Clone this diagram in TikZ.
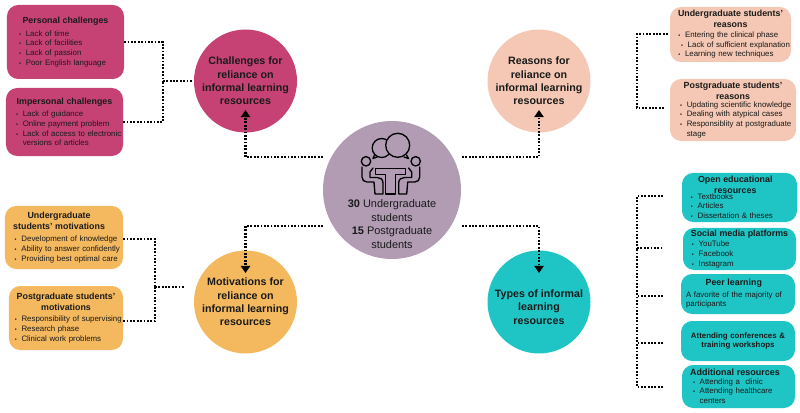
\documentclass[tikz,border=0pt]{standalone}
\usepackage{fontspec}
\setmainfont{Liberation Sans}
\usetikzlibrary{arrows.meta}

\definecolor{pinkfill}{HTML}{C64274}
\definecolor{peachfill}{HTML}{F4C8B4}
\definecolor{amberfill}{HTML}{F4B95F}
\definecolor{tealfill}{HTML}{1FC4C4}
\definecolor{mauvefill}{HTML}{B19CB4}
\definecolor{inktext}{HTML}{1A1A1A}

\newcommand{\boxhead}[1]{{\centering\fontsize{6.3}{7.8}\selectfont\bfseries #1\par}}
\newcommand{\blitem}[2][10.5pt]{\hyphenpenalty=10000\hangindent=#1\hangafter=1\noindent\hbox to #1{\hss{\fontsize{4}{4}\selectfont\textbullet}\hskip 3.4pt}#2\par}

\tikzset{
    infobox/.style={rounded corners=2.8mm, inner xsep=0.5mm, inner ysep=0pt, text=inktext,
        font=\fontsize{5.6}{6.9}\selectfont},
    topic/.style={circle, minimum size=25.75mm, inner sep=0pt, align=center, text=inktext,
        font=\fontsize{7.6}{9.5}\selectfont\bfseries},
    link/.style={line width=1.45pt, dash pattern=on 1.25pt off 1.15pt},
    linkarrow/.style={link, -{Triangle[width=6.5pt,length=5pt]}},
    icon/.style={line width=0.95pt, draw=black, line join=round, line cap=round}
}

\begin{document}
\begin{tikzpicture}[x=0.25mm, y=-0.25mm]
    \useasboundingbox (0,0) rectangle (800,413);

    % centre
    \node[circle, fill=mauvefill, minimum size=34.5mm, inner sep=0pt] (hub) at (392,190) {};
    \node[align=center, inner sep=0pt, text=inktext, font=\fontsize{7.8}{9.75}\selectfont] (hubtext) at (392,224)
        {\textbf{30} Undergraduate\\students\\\textbf{15} Postgraduate\\students};
    \draw[icon] (381.7,148) circle (9.5);
    \draw[icon, fill=mauvefill] (397.7,145.3) circle (12);
    \draw[icon] (374.5,155) -- (373,158.5) -- (377,157);
    \draw[icon] (406.5,155) -- (408.5,158.5) -- (404,157);
    \draw[icon] (366,161.3) circle (4.7);
    \draw[icon] (415.7,161.3) circle (4.7);
    \draw[icon] (375.7,168.7) -- (405.7,168.7) -- (405.7,174.7) -- (395.7,174.7) -- (395.7,194)
        -- (385.7,194) -- (385.7,174.7) -- (375.7,174.7) -- cycle;
    \draw[icon] (362,167) -- (362,177) .. controls (362,180) and (364,182) .. (367,182)
        -- (374,182) -- (375,194) -- (383,194) -- (383,183) .. controls (383,179) and (380,177.5) .. (377,177.5)
        -- (370,177.5) -- (370,172) -- (373,168);
    \draw[icon] (419.7,167) -- (419.7,177) .. controls (419.7,180) and (417.7,182) .. (414.7,182)
        -- (407.7,182) -- (406.7,194) -- (398.7,194) -- (398.7,183) .. controls (398.7,179) and (401.7,177.5) .. (404.7,177.5)
        -- (411.7,177.5) -- (411.7,172) -- (408.7,168);

    % topics
    \node[topic, fill=pinkfill] (chal) at (245.5,81)
        {Challenges for\\reliance on\\informal learning\\resources};
    \node[topic, fill=peachfill] (reas) at (539,81)
        {Reasons for\\reliance on\\informal learning\\resources};
    \node[topic, fill=amberfill] (moti) at (245.5,302)
        {Motivations for\\reliance on\\informal learning\\resources};
    \node[topic, fill=tealfill] (type) at (539,302)
        {\rule{0pt}{12.7pt}Types of informal\\learning\\resources};

    % challenges
    \node[infobox, fill=pinkfill, text width=28.25mm, minimum height=18.5mm] (personal) at (65.5,42)
        {\boxhead{Personal challenges}\vspace{2pt}
        \blitem[12pt]{Lack of time}\blitem[12pt]{Lack of facilities}\blitem[12pt]{Lack of passion}\blitem[12pt]{Poor English language}};
    \node[infobox, fill=pinkfill, text width=28.25mm, minimum height=17mm] (impersonal) at (64.5,122)
        {\boxhead{Impersonal challenges}\vspace{2pt}
        \blitem{Lack of guidance}\blitem{Online payment problem}\blitem{\mbox{Lack of access to electronic} versions of articles}};

    % motivations
    \node[infobox, fill=amberfill, text width=28.5mm, minimum height=15.75mm] (ugmot) at (64,237.5)
        {\boxhead{\hspace*{-7pt}Undergraduate\\\hspace*{-7pt}students' motivations}\vspace{2pt}
        \blitem[10.3pt]{Development of knowledge}\blitem[10.3pt]{\mbox{Ability to answer confidently}}\blitem[10.3pt]{Providing best optimal care}};
    \node[infobox, fill=amberfill, text width=27.5mm, minimum height=16mm] (pgmot) at (66,318)
        {\boxhead{Postgraduate students'\\motivations}\vspace{1pt}
        \blitem[7.5pt]{\mbox{Responsibility of supervising}}\blitem[7.5pt]{Research phase}\blitem[7.5pt]{Clinical work problems}};

    % reasons
    \node[infobox, fill=peachfill, text width=29.25mm, minimum height=13.75mm] (ugrea) at (730.5,34.5)
        {\boxhead{Undergraduate students'\\reasons}
        \blitem[9.3pt]{Entering the clinical phase}\blitem[11.2pt]{\mbox{Lack of sufficient explanation}}\blitem[9.3pt]{Learning new techniques}};
    \node[infobox, fill=peachfill, text width=30.5mm, minimum height=15.5mm] (pgrea) at (733,110)
        {\boxhead{Postgraduate students'\\reasons}\vspace{-1.5pt}
        \blitem{\mbox{Updating scientific knowledge}}\blitem{Dealing with atypical cases}\blitem{Responsiblity at postgraduate\linebreak stage}};

    % types
    \node[infobox, fill=tealfill, text width=27.75mm, minimum height=12.25mm] (open) at (739.5,197.5)
        {\boxhead{\hspace*{-6pt}Open educational\\\hspace*{-6pt}resources}\vspace{-3pt}
        \blitem[9.7pt]{Textbooks}\blitem[9.7pt]{Articles}\blitem[9.7pt]{Dissertation \& theses}};
    \node[infobox, fill=tealfill, text width=27.25mm, minimum height=10.5mm] (social) at (739.5,249)
        {\boxhead{Social media platforms}\vspace{0.5pt}
        \blitem[9.7pt]{YouTube}\blitem[9.7pt]{Facebook}\blitem[9.7pt]{Instagram}};
    \node[infobox, fill=tealfill, inner xsep=1.25mm, text width=26mm, minimum height=10mm] (peer) at (738,294)
        {\boxhead{\hspace*{-6pt}Peer learning}\vspace{1pt}
        A favorite of the majority of\linebreak participants};
    \node[infobox, fill=tealfill, text width=27.5mm, minimum height=10mm, align=center] (conf) at (738,341)
        {\bfseries Attending conferences \&\\training workshops};
    \node[infobox, fill=tealfill, text width=27.25mm, minimum height=10.75mm] (extra) at (738.5,386.5)
        {\boxhead{\hspace*{-5pt}\fontsize{6.4}{7.6}\selectfont Additional resources}\vspace{-1pt}
        \blitem[11.2pt]{Attending a\ \ clinic}\blitem[11.2pt]{Attending healthcare\linebreak centers}};

    % connector ends
    \coordinate (hubNW) at (323,157);
    \coordinate (hubSW) at (323,226);
    \coordinate (hubNE) at (462,157);
    \coordinate (hubSE) at (462,226);
    \coordinate (chalTip) at (245.5,110);
    \coordinate (motiTip) at (245.5,273);
    \coordinate (reasTip) at (539,110);
    \coordinate (typeTip) at (539,273);
    \coordinate (chalStub) at (192,81);
    \coordinate (chalBar) at (163,81);
    \coordinate (motiStub) at (184,287);
    \coordinate (motiBar) at (155,287);
    \coordinate (reasBar) at (637,71);
    \coordinate (reasTop) at (668,34);
    \coordinate (reasLow) at (664,108);
    \coordinate (typeBar) at (637,248);
    \coordinate (openStub) at (663,196);
    \coordinate (socialStub) at (663,248);
    \coordinate (peerStub) at (663,296);
    \coordinate (confStub) at (663,343);
    \coordinate (extraStub) at (663,387);

    % connectors
    \draw[linkarrow] (hubNW) -| (chalTip);
    \draw[linkarrow] (hubSW) -| (motiTip);
    \draw[linkarrow] (hubNE) -| (reasTip);
    \draw[linkarrow] (hubSE) -| (typeTip);
    \draw[link] (personal.east) -| (chalBar);
    \draw[link] (impersonal.east) -| (chalBar);
    \draw[link] (chalBar) -- (chalStub);
    \draw[link] (ugmot.east |- 0,239) -| (motiBar);
    \draw[link] (pgmot.east |- 0,321) -| (motiBar);
    \draw[link] (motiBar) -- (motiStub);
    \draw[link] (reasTop) -| (reasBar);
    \draw[link] (reasLow) -| (reasBar);
    \draw[link] (openStub) -| (typeBar);
    \draw[link] (extraStub) -| (typeBar);
    \draw[link] (typeBar) -- (socialStub);
    \draw[link] (peerStub) -- (peerStub -| typeBar);
    \draw[link] (confStub) -- (confStub -| typeBar);
\end{tikzpicture}
\end{document}
